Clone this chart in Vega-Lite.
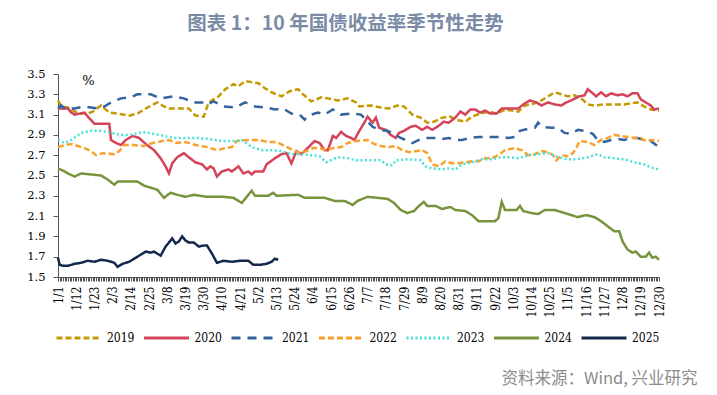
{
  "$schema": "https://vega.github.io/schema/vega-lite/v6.json",
  "width": 601,
  "height": 203,
  "autosize": {"type": "none"},
  "padding": {"left": 58, "top": 74, "right": 58, "bottom": 118},
  "background": "white",
  "title": {"text": "图表 1：10 年国债收益率季节性走势", "font": "Noto Sans CJK SC", "fontSize": 19.5, "fontWeight": "bold", "color": "#7A8BA6", "anchor": "middle", "offset": 34, "dx": -13},
  "config": {"view": {"stroke": null}, "axis": {"grid": false}},
  "data": {"values": [
    {"year":"2019","day":0,"value":3.24},{"year":"2019","day":2,"value":3.18},{"year":"2019","day":6,"value":3.17},{"year":"2019","day":10,"value":3.13},{"year":"2019","day":14,"value":3.11},{"year":"2019","day":18,"value":3.11},{"year":"2019","day":21,"value":3.13},{"year":"2019","day":26,"value":3.19},{"year":"2019","day":31,"value":3.12},{"year":"2019","day":36,"value":3.11},{"year":"2019","day":43,"value":3.09},{"year":"2019","day":48,"value":3.11},{"year":"2019","day":54,"value":3.17},{"year":"2019","day":60,"value":3.22},{"year":"2019","day":64,"value":3.18},{"year":"2019","day":67,"value":3.16},{"year":"2019","day":75,"value":3.16},{"year":"2019","day":79,"value":3.16},{"year":"2019","day":83,"value":3.09},{"year":"2019","day":88,"value":3.08},{"year":"2019","day":91,"value":3.22},{"year":"2019","day":95,"value":3.26},{"year":"2019","day":97,"value":3.28},{"year":"2019","day":101,"value":3.35},{"year":"2019","day":106,"value":3.40},{"year":"2019","day":109,"value":3.38},{"year":"2019","day":113,"value":3.43},{"year":"2019","day":117,"value":3.42},{"year":"2019","day":121,"value":3.41},{"year":"2019","day":125,"value":3.36},{"year":"2019","day":129,"value":3.32},{"year":"2019","day":135,"value":3.28},{"year":"2019","day":140,"value":3.33},{"year":"2019","day":145,"value":3.35},{"year":"2019","day":148,"value":3.30},{"year":"2019","day":153,"value":3.23},{"year":"2019","day":159,"value":3.27},{"year":"2019","day":163,"value":3.26},{"year":"2019","day":169,"value":3.24},{"year":"2019","day":175,"value":3.26},{"year":"2019","day":180,"value":3.22},{"year":"2019","day":182,"value":3.18},{"year":"2019","day":189,"value":3.19},{"year":"2019","day":195,"value":3.17},{"year":"2019","day":200,"value":3.16},{"year":"2019","day":205,"value":3.19},{"year":"2019","day":209,"value":3.18},{"year":"2019","day":214,"value":3.10},{"year":"2019","day":219,"value":3.07},{"year":"2019","day":223,"value":3.02},{"year":"2019","day":227,"value":3.03},{"year":"2019","day":232,"value":3.07},{"year":"2019","day":237,"value":3.08},{"year":"2019","day":240,"value":3.05},{"year":"2019","day":246,"value":3.03},{"year":"2019","day":250,"value":3.08},{"year":"2019","day":255,"value":3.11},{"year":"2019","day":260,"value":3.13},{"year":"2019","day":265,"value":3.11},{"year":"2019","day":270,"value":3.15},{"year":"2019","day":278,"value":3.13},{"year":"2019","day":282,"value":3.19},{"year":"2019","day":286,"value":3.20},{"year":"2019","day":292,"value":3.24},{"year":"2019","day":296,"value":3.28},{"year":"2019","day":300,"value":3.32},{"year":"2019","day":304,"value":3.30},{"year":"2019","day":308,"value":3.28},{"year":"2019","day":312,"value":3.29},{"year":"2019","day":316,"value":3.26},{"year":"2019","day":320,"value":3.20},{"year":"2019","day":324,"value":3.19},{"year":"2019","day":330,"value":3.20},{"year":"2019","day":336,"value":3.20},{"year":"2019","day":342,"value":3.20},{"year":"2019","day":346,"value":3.21},{"year":"2019","day":350,"value":3.22},{"year":"2019","day":354,"value":3.18},{"year":"2019","day":358,"value":3.15},{"year":"2019","day":363,"value":3.14},

    {"year":"2020","day":0,"value":3.16},{"year":"2020","day":6,"value":3.16},{"year":"2020","day":8,"value":3.12},{"year":"2020","day":10,"value":3.10},{"year":"2020","day":16,"value":3.12},{"year":"2020","day":18,"value":3.08},{"year":"2020","day":22,"value":3.01},{"year":"2020","day":31,"value":3.01},{"year":"2020","day":32,"value":2.85},{"year":"2020","day":35,"value":2.82},{"year":"2020","day":38,"value":2.80},{"year":"2020","day":41,"value":2.85},{"year":"2020","day":45,"value":2.89},{"year":"2020","day":49,"value":2.87},{"year":"2020","day":53,"value":2.81},{"year":"2020","day":58,"value":2.75},{"year":"2020","day":62,"value":2.67},{"year":"2020","day":65,"value":2.59},{"year":"2020","day":67,"value":2.52},{"year":"2020","day":69,"value":2.62},{"year":"2020","day":72,"value":2.68},{"year":"2020","day":76,"value":2.72},{"year":"2020","day":79,"value":2.68},{"year":"2020","day":83,"value":2.63},{"year":"2020","day":87,"value":2.61},{"year":"2020","day":90,"value":2.56},{"year":"2020","day":92,"value":2.59},{"year":"2020","day":94,"value":2.57},{"year":"2020","day":96,"value":2.49},{"year":"2020","day":99,"value":2.54},{"year":"2020","day":103,"value":2.56},{"year":"2020","day":105,"value":2.54},{"year":"2020","day":109,"value":2.59},{"year":"2020","day":112,"value":2.52},{"year":"2020","day":115,"value":2.54},{"year":"2020","day":117,"value":2.51},{"year":"2020","day":119,"value":2.54},{"year":"2020","day":124,"value":2.54},{"year":"2020","day":126,"value":2.61},{"year":"2020","day":131,"value":2.67},{"year":"2020","day":135,"value":2.71},{"year":"2020","day":138,"value":2.72},{"year":"2020","day":141,"value":2.62},{"year":"2020","day":144,"value":2.74},{"year":"2020","day":147,"value":2.71},{"year":"2020","day":152,"value":2.79},{"year":"2020","day":155,"value":2.84},{"year":"2020","day":158,"value":2.82},{"year":"2020","day":161,"value":2.75},{"year":"2020","day":163,"value":2.75},{"year":"2020","day":166,"value":2.89},{"year":"2020","day":168,"value":2.87},{"year":"2020","day":171,"value":2.93},{"year":"2020","day":174,"value":2.89},{"year":"2020","day":177,"value":2.87},{"year":"2020","day":179,"value":2.85},{"year":"2020","day":182,"value":2.94},{"year":"2020","day":185,"value":3.02},{"year":"2020","day":187,"value":3.08},{"year":"2020","day":190,"value":3.02},{"year":"2020","day":192,"value":3.07},{"year":"2020","day":194,"value":2.97},{"year":"2020","day":198,"value":2.95},{"year":"2020","day":201,"value":2.90},{"year":"2020","day":204,"value":2.87},{"year":"2020","day":206,"value":2.92},{"year":"2020","day":209,"value":2.94},{"year":"2020","day":213,"value":2.98},{"year":"2020","day":216,"value":2.99},{"year":"2020","day":220,"value":2.95},{"year":"2020","day":223,"value":2.98},{"year":"2020","day":226,"value":2.95},{"year":"2020","day":230,"value":2.99},{"year":"2020","day":233,"value":3.03},{"year":"2020","day":236,"value":3.02},{"year":"2020","day":240,"value":3.07},{"year":"2020","day":243,"value":3.13},{"year":"2020","day":246,"value":3.10},{"year":"2020","day":249,"value":3.15},{"year":"2020","day":252,"value":3.15},{"year":"2020","day":255,"value":3.12},{"year":"2020","day":258,"value":3.14},{"year":"2020","day":261,"value":3.11},{"year":"2020","day":265,"value":3.11},{"year":"2020","day":268,"value":3.16},{"year":"2020","day":278,"value":3.16},{"year":"2020","day":281,"value":3.20},{"year":"2020","day":285,"value":3.24},{"year":"2020","day":289,"value":3.22},{"year":"2020","day":292,"value":3.19},{"year":"2020","day":296,"value":3.22},{"year":"2020","day":300,"value":3.20},{"year":"2020","day":304,"value":3.19},{"year":"2020","day":307,"value":3.22},{"year":"2020","day":310,"value":3.24},{"year":"2020","day":315,"value":3.28},{"year":"2020","day":318,"value":3.29},{"year":"2020","day":320,"value":3.35},{"year":"2020","day":323,"value":3.31},{"year":"2020","day":325,"value":3.28},{"year":"2020","day":328,"value":3.32},{"year":"2020","day":331,"value":3.28},{"year":"2020","day":334,"value":3.31},{"year":"2020","day":338,"value":3.29},{"year":"2020","day":341,"value":3.30},{"year":"2020","day":344,"value":3.28},{"year":"2020","day":347,"value":3.31},{"year":"2020","day":350,"value":3.31},{"year":"2020","day":352,"value":3.25},{"year":"2020","day":355,"value":3.22},{"year":"2020","day":358,"value":3.19},{"year":"2020","day":360,"value":3.15},{"year":"2020","day":363,"value":3.16},

    {"year":"2021","day":0,"value":3.16},{"year":"2021","day":2,"value":3.19},{"year":"2021","day":4,"value":3.16},{"year":"2021","day":10,"value":3.16},{"year":"2021","day":16,"value":3.18},{"year":"2021","day":24,"value":3.16},{"year":"2021","day":28,"value":3.18},{"year":"2021","day":32,"value":3.22},{"year":"2021","day":38,"value":3.26},{"year":"2021","day":44,"value":3.27},{"year":"2021","day":48,"value":3.30},{"year":"2021","day":56,"value":3.30},{"year":"2021","day":62,"value":3.26},{"year":"2021","day":70,"value":3.28},{"year":"2021","day":76,"value":3.26},{"year":"2021","day":82,"value":3.22},{"year":"2021","day":88,"value":3.22},{"year":"2021","day":90,"value":3.20},{"year":"2021","day":94,"value":3.23},{"year":"2021","day":100,"value":3.18},{"year":"2021","day":107,"value":3.17},{"year":"2021","day":113,"value":3.22},{"year":"2021","day":119,"value":3.18},{"year":"2021","day":126,"value":3.17},{"year":"2021","day":131,"value":3.15},{"year":"2021","day":136,"value":3.16},{"year":"2021","day":141,"value":3.11},{"year":"2021","day":146,"value":3.10},{"year":"2021","day":149,"value":3.05},{"year":"2021","day":151,"value":3.09},{"year":"2021","day":157,"value":3.12},{"year":"2021","day":161,"value":3.10},{"year":"2021","day":166,"value":3.15},{"year":"2021","day":171,"value":3.10},{"year":"2021","day":177,"value":3.11},{"year":"2021","day":183,"value":3.10},{"year":"2021","day":186,"value":3.05},{"year":"2021","day":190,"value":2.98},{"year":"2021","day":194,"value":2.95},{"year":"2021","day":199,"value":2.94},{"year":"2021","day":203,"value":2.91},{"year":"2021","day":207,"value":2.87},{"year":"2021","day":210,"value":2.85},{"year":"2021","day":214,"value":2.82},{"year":"2021","day":218,"value":2.85},{"year":"2021","day":222,"value":2.87},{"year":"2021","day":228,"value":2.87},{"year":"2021","day":232,"value":2.86},{"year":"2021","day":236,"value":2.87},{"year":"2021","day":240,"value":2.85},{"year":"2021","day":244,"value":2.85},{"year":"2021","day":249,"value":2.87},{"year":"2021","day":254,"value":2.88},{"year":"2021","day":262,"value":2.88},{"year":"2021","day":268,"value":2.88},{"year":"2021","day":272,"value":2.87},{"year":"2021","day":276,"value":2.88},{"year":"2021","day":279,"value":2.94},{"year":"2021","day":284,"value":2.96},{"year":"2021","day":288,"value":2.97},{"year":"2021","day":290,"value":3.02},{"year":"2021","day":292,"value":2.98},{"year":"2021","day":298,"value":2.97},{"year":"2021","day":302,"value":2.97},{"year":"2021","day":306,"value":2.92},{"year":"2021","day":310,"value":2.91},{"year":"2021","day":314,"value":2.95},{"year":"2021","day":318,"value":2.94},{"year":"2021","day":323,"value":2.91},{"year":"2021","day":326,"value":2.85},{"year":"2021","day":330,"value":2.83},{"year":"2021","day":334,"value":2.85},{"year":"2021","day":338,"value":2.86},{"year":"2021","day":342,"value":2.85},{"year":"2021","day":346,"value":2.87},{"year":"2021","day":350,"value":2.87},{"year":"2021","day":354,"value":2.85},{"year":"2021","day":358,"value":2.84},{"year":"2021","day":362,"value":2.79},

    {"year":"2022","day":0,"value":2.78},{"year":"2022","day":4,"value":2.80},{"year":"2022","day":8,"value":2.81},{"year":"2022","day":12,"value":2.79},{"year":"2022","day":16,"value":2.77},{"year":"2022","day":20,"value":2.74},{"year":"2022","day":23,"value":2.70},{"year":"2022","day":27,"value":2.72},{"year":"2022","day":34,"value":2.71},{"year":"2022","day":37,"value":2.74},{"year":"2022","day":40,"value":2.80},{"year":"2022","day":46,"value":2.80},{"year":"2022","day":52,"value":2.79},{"year":"2022","day":57,"value":2.82},{"year":"2022","day":63,"value":2.84},{"year":"2022","day":67,"value":2.85},{"year":"2022","day":71,"value":2.82},{"year":"2022","day":77,"value":2.83},{"year":"2022","day":83,"value":2.80},{"year":"2022","day":90,"value":2.78},{"year":"2022","day":96,"value":2.75},{"year":"2022","day":101,"value":2.77},{"year":"2022","day":105,"value":2.78},{"year":"2022","day":108,"value":2.84},{"year":"2022","day":115,"value":2.85},{"year":"2022","day":121,"value":2.85},{"year":"2022","day":127,"value":2.83},{"year":"2022","day":132,"value":2.83},{"year":"2022","day":137,"value":2.79},{"year":"2022","day":142,"value":2.75},{"year":"2022","day":146,"value":2.72},{"year":"2022","day":150,"value":2.74},{"year":"2022","day":154,"value":2.77},{"year":"2022","day":158,"value":2.77},{"year":"2022","day":162,"value":2.75},{"year":"2022","day":166,"value":2.77},{"year":"2022","day":171,"value":2.78},{"year":"2022","day":175,"value":2.82},{"year":"2022","day":180,"value":2.84},{"year":"2022","day":187,"value":2.85},{"year":"2022","day":191,"value":2.81},{"year":"2022","day":195,"value":2.79},{"year":"2022","day":200,"value":2.78},{"year":"2022","day":204,"value":2.79},{"year":"2022","day":208,"value":2.75},{"year":"2022","day":212,"value":2.73},{"year":"2022","day":216,"value":2.74},{"year":"2022","day":220,"value":2.75},{"year":"2022","day":223,"value":2.72},{"year":"2022","day":226,"value":2.61},{"year":"2022","day":230,"value":2.59},{"year":"2022","day":234,"value":2.64},{"year":"2022","day":238,"value":2.62},{"year":"2022","day":242,"value":2.62},{"year":"2022","day":246,"value":2.63},{"year":"2022","day":250,"value":2.64},{"year":"2022","day":254,"value":2.64},{"year":"2022","day":258,"value":2.67},{"year":"2022","day":262,"value":2.67},{"year":"2022","day":266,"value":2.70},{"year":"2022","day":270,"value":2.75},{"year":"2022","day":276,"value":2.77},{"year":"2022","day":280,"value":2.75},{"year":"2022","day":284,"value":2.70},{"year":"2022","day":288,"value":2.71},{"year":"2022","day":292,"value":2.74},{"year":"2022","day":296,"value":2.73},{"year":"2022","day":299,"value":2.70},{"year":"2022","day":301,"value":2.65},{"year":"2022","day":304,"value":2.70},{"year":"2022","day":308,"value":2.69},{"year":"2022","day":311,"value":2.72},{"year":"2022","day":313,"value":2.77},{"year":"2022","day":315,"value":2.84},{"year":"2022","day":320,"value":2.83},{"year":"2022","day":324,"value":2.80},{"year":"2022","day":328,"value":2.85},{"year":"2022","day":332,"value":2.87},{"year":"2022","day":336,"value":2.90},{"year":"2022","day":340,"value":2.89},{"year":"2022","day":344,"value":2.88},{"year":"2022","day":348,"value":2.87},{"year":"2022","day":352,"value":2.87},{"year":"2022","day":355,"value":2.84},{"year":"2022","day":358,"value":2.85},{"year":"2022","day":363,"value":2.84},

    {"year":"2023","day":0,"value":2.85},{"year":"2023","day":4,"value":2.82},{"year":"2023","day":8,"value":2.85},{"year":"2023","day":14,"value":2.92},{"year":"2023","day":20,"value":2.94},{"year":"2023","day":26,"value":2.94},{"year":"2023","day":32,"value":2.92},{"year":"2023","day":38,"value":2.90},{"year":"2023","day":44,"value":2.90},{"year":"2023","day":51,"value":2.93},{"year":"2023","day":58,"value":2.91},{"year":"2023","day":64,"value":2.89},{"year":"2023","day":70,"value":2.87},{"year":"2023","day":79,"value":2.87},{"year":"2023","day":85,"value":2.87},{"year":"2023","day":91,"value":2.86},{"year":"2023","day":99,"value":2.84},{"year":"2023","day":107,"value":2.84},{"year":"2023","day":111,"value":2.85},{"year":"2023","day":117,"value":2.78},{"year":"2023","day":123,"value":2.75},{"year":"2023","day":129,"value":2.75},{"year":"2023","day":135,"value":2.74},{"year":"2023","day":141,"value":2.71},{"year":"2023","day":147,"value":2.71},{"year":"2023","day":153,"value":2.70},{"year":"2023","day":158,"value":2.69},{"year":"2023","day":162,"value":2.63},{"year":"2023","day":166,"value":2.66},{"year":"2023","day":169,"value":2.68},{"year":"2023","day":175,"value":2.67},{"year":"2023","day":180,"value":2.65},{"year":"2023","day":187,"value":2.65},{"year":"2023","day":195,"value":2.65},{"year":"2023","day":198,"value":2.61},{"year":"2023","day":202,"value":2.60},{"year":"2023","day":204,"value":2.65},{"year":"2023","day":211,"value":2.66},{"year":"2023","day":219,"value":2.65},{"year":"2023","day":222,"value":2.59},{"year":"2023","day":226,"value":2.57},{"year":"2023","day":232,"value":2.56},{"year":"2023","day":236,"value":2.57},{"year":"2023","day":240,"value":2.56},{"year":"2023","day":244,"value":2.61},{"year":"2023","day":250,"value":2.63},{"year":"2023","day":256,"value":2.66},{"year":"2023","day":262,"value":2.66},{"year":"2023","day":268,"value":2.68},{"year":"2023","day":272,"value":2.68},{"year":"2023","day":278,"value":2.67},{"year":"2023","day":284,"value":2.70},{"year":"2023","day":290,"value":2.71},{"year":"2023","day":296,"value":2.72},{"year":"2023","day":302,"value":2.68},{"year":"2023","day":308,"value":2.66},{"year":"2023","day":314,"value":2.66},{"year":"2023","day":320,"value":2.68},{"year":"2023","day":326,"value":2.71},{"year":"2023","day":330,"value":2.68},{"year":"2023","day":336,"value":2.67},{"year":"2023","day":342,"value":2.66},{"year":"2023","day":348,"value":2.63},{"year":"2023","day":354,"value":2.61},{"year":"2023","day":358,"value":2.58},{"year":"2023","day":363,"value":2.56},

    {"year":"2024","day":0,"value":2.57},{"year":"2024","day":4,"value":2.54},{"year":"2024","day":6,"value":2.52},{"year":"2024","day":10,"value":2.49},{"year":"2024","day":14,"value":2.52},{"year":"2024","day":20,"value":2.51},{"year":"2024","day":26,"value":2.50},{"year":"2024","day":30,"value":2.46},{"year":"2024","day":34,"value":2.41},{"year":"2024","day":36,"value":2.44},{"year":"2024","day":48,"value":2.44},{"year":"2024","day":52,"value":2.40},{"year":"2024","day":56,"value":2.38},{"year":"2024","day":60,"value":2.36},{"year":"2024","day":64,"value":2.28},{"year":"2024","day":68,"value":2.33},{"year":"2024","day":72,"value":2.31},{"year":"2024","day":77,"value":2.29},{"year":"2024","day":82,"value":2.31},{"year":"2024","day":90,"value":2.29},{"year":"2024","day":100,"value":2.29},{"year":"2024","day":106,"value":2.28},{"year":"2024","day":111,"value":2.23},{"year":"2024","day":115,"value":2.31},{"year":"2024","day":117,"value":2.35},{"year":"2024","day":119,"value":2.30},{"year":"2024","day":127,"value":2.30},{"year":"2024","day":130,"value":2.33},{"year":"2024","day":132,"value":2.30},{"year":"2024","day":145,"value":2.31},{"year":"2024","day":149,"value":2.28},{"year":"2024","day":161,"value":2.28},{"year":"2024","day":167,"value":2.25},{"year":"2024","day":173,"value":2.25},{"year":"2024","day":178,"value":2.21},{"year":"2024","day":181,"value":2.25},{"year":"2024","day":187,"value":2.29},{"year":"2024","day":199,"value":2.27},{"year":"2024","day":203,"value":2.23},{"year":"2024","day":207,"value":2.16},{"year":"2024","day":211,"value":2.13},{"year":"2024","day":215,"value":2.15},{"year":"2024","day":218,"value":2.20},{"year":"2024","day":221,"value":2.24},{"year":"2024","day":223,"value":2.20},{"year":"2024","day":228,"value":2.20},{"year":"2024","day":232,"value":2.17},{"year":"2024","day":237,"value":2.19},{"year":"2024","day":240,"value":2.16},{"year":"2024","day":246,"value":2.15},{"year":"2024","day":250,"value":2.11},{"year":"2024","day":254,"value":2.05},{"year":"2024","day":260,"value":2.05},{"year":"2024","day":264,"value":2.05},{"year":"2024","day":266,"value":2.08},{"year":"2024","day":268,"value":2.24},{"year":"2024","day":270,"value":2.16},{"year":"2024","day":277,"value":2.16},{"year":"2024","day":279,"value":2.20},{"year":"2024","day":281,"value":2.15},{"year":"2024","day":286,"value":2.13},{"year":"2024","day":290,"value":2.12},{"year":"2024","day":294,"value":2.16},{"year":"2024","day":300,"value":2.16},{"year":"2024","day":306,"value":2.13},{"year":"2024","day":312,"value":2.10},{"year":"2024","day":314,"value":2.09},{"year":"2024","day":319,"value":2.11},{"year":"2024","day":324,"value":2.09},{"year":"2024","day":328,"value":2.05},{"year":"2024","day":332,"value":2.00},{"year":"2024","day":336,"value":1.95},{"year":"2024","day":339,"value":1.95},{"year":"2024","day":341,"value":1.85},{"year":"2024","day":344,"value":1.77},{"year":"2024","day":347,"value":1.74},{"year":"2024","day":349,"value":1.75},{"year":"2024","day":352,"value":1.70},{"year":"2024","day":355,"value":1.70},{"year":"2024","day":357,"value":1.74},{"year":"2024","day":359,"value":1.69},{"year":"2024","day":361,"value":1.70},{"year":"2024","day":363,"value":1.67},

    {"year":"2025","day":0,"value":1.69},{"year":"2025","day":1,"value":1.62},{"year":"2025","day":3,"value":1.61},{"year":"2025","day":6,"value":1.61},{"year":"2025","day":10,"value":1.63},{"year":"2025","day":14,"value":1.64},{"year":"2025","day":18,"value":1.66},{"year":"2025","day":22,"value":1.65},{"year":"2025","day":26,"value":1.67},{"year":"2025","day":30,"value":1.66},{"year":"2025","day":34,"value":1.64},{"year":"2025","day":36,"value":1.60},{"year":"2025","day":39,"value":1.63},{"year":"2025","day":43,"value":1.65},{"year":"2025","day":47,"value":1.69},{"year":"2025","day":50,"value":1.72},{"year":"2025","day":53,"value":1.75},{"year":"2025","day":56,"value":1.74},{"year":"2025","day":58,"value":1.75},{"year":"2025","day":62,"value":1.71},{"year":"2025","day":65,"value":1.80},{"year":"2025","day":67,"value":1.84},{"year":"2025","day":69,"value":1.88},{"year":"2025","day":71,"value":1.83},{"year":"2025","day":73,"value":1.85},{"year":"2025","day":75,"value":1.90},{"year":"2025","day":77,"value":1.86},{"year":"2025","day":79,"value":1.84},{"year":"2025","day":82,"value":1.84},{"year":"2025","day":85,"value":1.80},{"year":"2025","day":88,"value":1.81},{"year":"2025","day":90,"value":1.81},{"year":"2025","day":93,"value":1.73},{"year":"2025","day":96,"value":1.64},{"year":"2025","day":100,"value":1.66},{"year":"2025","day":105,"value":1.65},{"year":"2025","day":110,"value":1.66},{"year":"2025","day":115,"value":1.66},{"year":"2025","day":118,"value":1.62},{"year":"2025","day":122,"value":1.62},{"year":"2025","day":126,"value":1.63},{"year":"2025","day":129,"value":1.65},{"year":"2025","day":131,"value":1.68},{"year":"2025","day":133,"value":1.67}
  ]},
  "mark": {"type": "line", "strokeWidth": 2.5},
  "encoding": {
    "x": {
      "field": "day", "type": "quantitative",
      "scale": {"domain": [0, 363], "nice": false, "zero": false},
      "axis": {
        "tickCount": 364, "labelOverlap": false, "labelFlush": false, "labelBound": false,
        "labelExpr": "datum.value % 11 === 0 ? timeFormat(datetime(2019, 0, 1 + datum.value), '%-m/%-d') : ''",
        "labelAngle": -90, "labelFont": "DejaVu Serif Condensed, DejaVu Serif", "labelFontSize": 12, "labelColor": "#000",
        "labelPadding": 5, "tickSize": 4, "tickColor": "#555", "domainColor": "#555", "grid": false,
        "title": "资料来源：Wind, 兴业研究", "titleFont": "Noto Sans CJK SC", "titleFontSize": 16.5, "titleFontWeight": "normal",
        "titleColor": "#8C8C8C", "titleX": 639, "titleY": 101, "titleAlign": "right", "titleBaseline": "middle", "titleAngle": 0
      }
    },
    "y": {
      "field": "value", "type": "quantitative",
      "scale": {"domain": [1.5, 3.5], "nice": false, "zero": false},
      "axis": {
        "values": [1.5, 1.7, 1.9, 2.1, 2.3, 2.5, 2.7, 2.9, 3.1, 3.3, 3.5], "format": ".1f",
        "labelFont": "DejaVu Serif", "labelFontSize": 11.5, "labelColor": "#000", "labelPadding": 8,
        "tickSize": 5, "tickColor": "#555", "domainColor": "#555", "grid": false,
        "title": "%", "titleAngle": 0, "titleX": 30, "titleY": 6, "titleAlign": "center", "titleBaseline": "middle",
        "titleFont": "DejaVu Serif", "titleFontSize": 13, "titleFontWeight": "normal", "titleColor": "#000"
      }
    },
    "color": {
      "field": "year", "type": "nominal",
      "scale": {"domain": ["2019","2020","2021","2022","2023","2024","2025"], "range": ["#C49A00","#D4435A","#33649E","#F9A12B","#48E0DA","#77933C","#14284B"]},
      "legend": {"title": null, "orient": "none", "legendX": -3, "legendY": 240, "direction": "horizontal", "columns": 7,
        "symbolType": "stroke", "symbolSize": 2025, "symbolStrokeWidth": 3, "labelFont": "DejaVu Serif Condensed, DejaVu Serif", "labelFontSize": 12,
        "labelColor": "#000", "labelOffset": 4, "columnPadding": 2.5}
    },
    "strokeDash": {
      "field": "year", "type": "nominal",
      "scale": {"domain": ["2019","2020","2021","2022","2023","2024","2025"], "range": [[6,3],[1,0],[9,7],[6,3],[2,2.5],[1,0],[1,0]]},
      "legend": {"title": null, "orient": "none", "legendX": -3, "legendY": 240, "direction": "horizontal", "columns": 7,
        "symbolType": "stroke", "symbolSize": 2025, "symbolStrokeWidth": 3, "labelFont": "DejaVu Serif Condensed, DejaVu Serif", "labelFontSize": 12,
        "labelColor": "#000", "labelOffset": 4, "columnPadding": 2.5}
    }
  }
}
